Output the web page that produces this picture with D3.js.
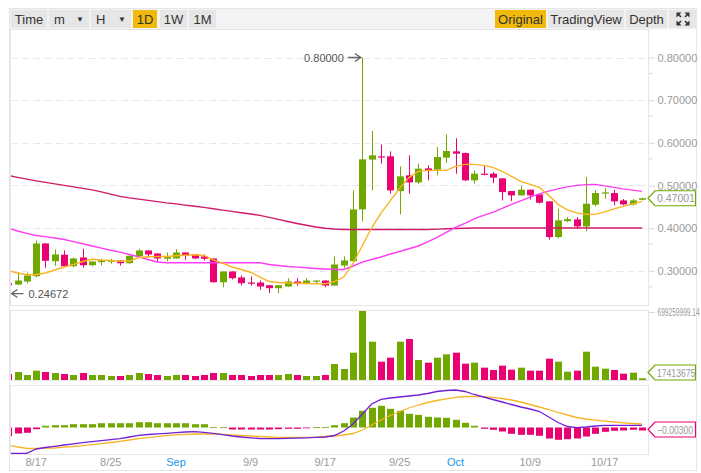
<!DOCTYPE html>
<html><head><meta charset="utf-8">
<script src="https://cdn.jsdelivr.net/npm/d3@7/dist/d3.min.js"></script>
<style>
html,body{margin:0;padding:0;background:#fff;}
svg{display:block;font-family:"Liberation Sans",Arial,Helvetica,sans-serif;}
</style></head><body>
<svg id="c" width="701" height="473"></svg>
<script>
// ---------------- DATA ----------------
const dates = ["8/14","8/15","8/16","8/17","8/18","8/19","8/20","8/21","8/22","8/23","8/24","8/25","8/26","8/27","8/28","8/29","8/30","8/31",
"9/1","9/2","9/3","9/4","9/5","9/6","9/7","9/8","9/9","9/10","9/11","9/12","9/13","9/14","9/15","9/16","9/17","9/18","9/19","9/20","9/21","9/22","9/23","9/24","9/25","9/26","9/27","9/28","9/29","9/30",
"10/1","10/2","10/3","10/4","10/5","10/6","10/7","10/8","10/9","10/10","10/11","10/12","10/13","10/14","10/15","10/16","10/17","10/18","10/19","10/20","10/21"];
const open  = [0.2709,0.2678,0.2749,0.2873,0.3641,0.3225,0.3376,0.3108,0.3312,0.3131,0.3202,0.3225,0.3242,0.3178,0.3343,0.3477,0.3406,0.3282,0.3289,0.3430,0.3383,0.3336,0.3289,0.2732,0.2984,0.2843,0.2725,0.2725,0.2662,0.2592,0.2632,0.2749,0.2709,0.2749,0.2772,0.2655,0.3124,0.3225,0.4439,0.5606,0.5683,0.5683,0.4869,0.5237,0.5073,0.5401,0.5371,0.5653,0.5800,0.5761,0.5120,0.5277,0.5277,0.5167,0.4869,0.4768,0.4901,0.4791,0.4627,0.3789,0.4164,0.4204,0.4040,0.4549,0.4815,0.4822,0.4650,0.4556,0.4665];
const high  = [0.2720,0.2967,0.2960,0.3711,0.3650,0.3500,0.3477,0.3310,0.3516,0.3220,0.3282,0.3282,0.3245,0.3355,0.3516,0.3480,0.3410,0.3430,0.3507,0.3432,0.3385,0.3383,0.3292,0.2987,0.2987,0.2890,0.2866,0.2772,0.2664,0.2665,0.2826,0.2826,0.2826,0.2775,0.2775,0.3336,0.3336,0.4885,0.8000,0.6277,0.5958,0.5800,0.5448,0.5707,0.5512,0.5472,0.5900,0.6200,0.6106,0.5770,0.5354,0.5472,0.5315,0.5170,0.4870,0.4995,0.4905,0.4795,0.4630,0.4455,0.4258,0.4258,0.5197,0.4885,0.4939,0.4901,0.4681,0.4681,0.4710];
const low   = [0.24672,0.2665,0.2702,0.2843,0.3070,0.3117,0.3085,0.3085,0.3070,0.3108,0.3124,0.3164,0.3124,0.3164,0.3336,0.3305,0.3218,0.3225,0.3282,0.3258,0.3272,0.3242,0.2725,0.2615,0.2796,0.2655,0.2655,0.2554,0.2480,0.2480,0.2630,0.2655,0.2700,0.2695,0.2615,0.2650,0.3070,0.3200,0.4157,0.4885,0.5512,0.4808,0.4322,0.4808,0.5033,0.5120,0.5237,0.5535,0.5277,0.5103,0.5042,0.5237,0.5056,0.4650,0.4634,0.4765,0.4671,0.4573,0.3728,0.3760,0.4141,0.3986,0.3930,0.4509,0.4690,0.4533,0.4533,0.4526,0.4650];
const close = [0.2662,0.2772,0.2890,0.3641,0.3235,0.3383,0.3108,0.3289,0.3131,0.3218,0.3242,0.3242,0.3178,0.3352,0.3477,0.3383,0.3289,0.3319,0.3430,0.3352,0.3289,0.3282,0.2732,0.2984,0.2826,0.2709,0.2709,0.2632,0.2592,0.2662,0.2749,0.2702,0.2772,0.2772,0.2655,0.3148,0.3242,0.4439,0.5613,0.5707,0.5667,0.4885,0.5214,0.5073,0.5394,0.5354,0.5667,0.5808,0.5746,0.5120,0.5277,0.5254,0.5183,0.4845,0.4768,0.4901,0.4768,0.4596,0.3789,0.4181,0.4211,0.4040,0.4573,0.4822,0.4838,0.4627,0.4556,0.4650,0.47001];
const maShort = [0.3007,0.2948,0.2906,0.2913,0.2948,0.3019,0.3089,0.3148,0.3218,0.3272,0.3254,0.3242,0.3225,0.3225,0.3312,0.3329,0.3336,0.3336,0.3352,0.3366,0.3376,0.3359,0.3254,0.3183,0.3089,0.3031,0.2967,0.2854,0.2749,0.2725,0.2714,0.2709,0.2702,0.2697,0.2695,0.2749,0.2854,0.3171,0.3594,0.4009,0.4350,0.4646,0.4932,0.5185,0.5331,0.5354,0.5354,0.5354,0.5448,0.5495,0.5495,0.5472,0.5425,0.5331,0.5214,0.5096,0.5026,0.4955,0.4768,0.4556,0.4427,0.4357,0.4326,0.4322,0.4380,0.4451,0.4509,0.4568,0.4627];
const maMid = [0.3998,0.3934,0.3876,0.3829,0.3800,0.3770,0.3735,0.3683,0.3634,0.3582,0.3531,0.3481,0.3437,0.3383,0.3329,0.3265,0.3207,0.3188,0.3188,0.3188,0.3188,0.3188,0.3188,0.3188,0.3188,0.3188,0.3188,0.3188,0.3148,0.3124,0.3101,0.3085,0.3070,0.3054,0.3042,0.3031,0.3031,0.3113,0.3202,0.3265,0.3324,0.3394,0.3453,0.3516,0.3582,0.3676,0.3782,0.3899,0.4016,0.4110,0.4216,0.4298,0.4369,0.4462,0.4556,0.4638,0.4725,0.4803,0.4869,0.4920,0.4967,0.5002,0.5019,0.5026,0.4991,0.4955,0.4920,0.4890,0.4862];
const maLong = [0.5237,0.5190,0.5148,0.5108,0.5073,0.5038,0.5002,0.4967,0.4932,0.4897,0.4850,0.4798,0.4744,0.4709,0.4681,0.4650,0.4622,0.4592,0.4568,0.4540,0.4514,0.4486,0.4455,0.4423,0.4392,0.4362,0.4333,0.4298,0.4251,0.4204,0.4157,0.4110,0.4068,0.4028,0.3998,0.3979,0.3969,0.3969,0.3969,0.3969,0.3969,0.3969,0.3969,0.3969,0.3969,0.3969,0.3977,0.3984,0.3991,0.3998,0.4005,0.4005,0.4005,0.4005,0.4005,0.4005,0.4005,0.4005,0.4005,0.4005,0.4005,0.4005,0.4005,0.4005,0.4005,0.4005,0.4005,0.4005,0.4005];
const volume = [60.8e6,81.1e6,50.7e6,94.6e6,81.1e6,70.9e6,60.8e6,50.7e6,70.9e6,50.7e6,50.7e6,40.5e6,40.5e6,50.7e6,70.9e6,60.8e6,50.7e6,40.5e6,50.7e6,50.7e6,40.5e6,50.7e6,70.9e6,70.9e6,50.7e6,50.7e6,40.5e6,50.7e6,50.7e6,50.7e6,60.8e6,50.7e6,40.5e6,40.5e6,50.7e6,162.1e6,111.4e6,276.9e6,699259999.14,388.3e6,185.7e6,226.2e6,388.3e6,415.3e6,202.6e6,175.6e6,226.2e6,260.0e6,276.9e6,165.5e6,175.6e6,124.9e6,101.3e6,145.2e6,104.7e6,124.9e6,94.6e6,94.6e6,216.1e6,185.7e6,84.4e6,94.6e6,287.0e6,135.1e6,114.8e6,101.3e6,64.2e6,74.3e6,17413675];
const dif = [-0.0260,-0.0260,-0.0258,-0.0215,-0.0200,-0.0188,-0.0175,-0.0163,-0.0152,-0.0142,-0.0132,-0.0122,-0.0112,-0.0095,-0.0078,-0.0070,-0.0063,-0.0058,-0.0052,-0.0045,-0.0042,-0.0048,-0.0058,-0.0072,-0.0085,-0.0095,-0.0103,-0.0110,-0.0112,-0.0111,-0.0109,-0.0107,-0.0103,-0.0099,-0.0095,-0.0080,-0.0035,0.0035,0.0135,0.0235,0.0282,0.0295,0.0305,0.0315,0.0325,0.0340,0.0360,0.0370,0.0375,0.0360,0.0330,0.0305,0.0280,0.0255,0.0230,0.0205,0.0185,0.0160,0.0105,0.0050,0.0010,-0.0002,0.0005,0.0015,0.0022,0.0022,0.0022,0.0022,0.0022];
const dea = [-0.0175,-0.0195,-0.0208,-0.0208,-0.0207,-0.0205,-0.0197,-0.0190,-0.0182,-0.0172,-0.0162,-0.0150,-0.0138,-0.0125,-0.0112,-0.0101,-0.0091,-0.0082,-0.0074,-0.0068,-0.0065,-0.0065,-0.0065,-0.0069,-0.0074,-0.0080,-0.0085,-0.0090,-0.0095,-0.0098,-0.0099,-0.0099,-0.0098,-0.0096,-0.0090,-0.0085,-0.0075,-0.0060,-0.0025,0.0025,0.0075,0.0120,0.0160,0.0195,0.0225,0.0250,0.0270,0.0287,0.0302,0.0310,0.0310,0.0308,0.0302,0.0290,0.0275,0.0255,0.0230,0.0205,0.0180,0.0150,0.0125,0.0100,0.0085,0.0073,0.0063,0.0055,0.0047,0.0040,0.0035];
const hist = [-0.0087,-0.0060,-0.0053,-0.0017,0.0017,0.0023,0.0023,0.0033,0.0033,0.0033,0.0043,0.0043,0.0043,0.0043,0.0053,0.0053,0.0043,0.0043,0.0043,0.0043,0.0033,0.0033,0.0003,0.0002,-0.0020,-0.0020,-0.0020,-0.0020,-0.0020,-0.0017,-0.0013,-0.0013,-0.0007,0.0003,0.0003,0.0023,0.0043,0.0100,0.0167,0.0197,0.0217,0.0187,0.0167,0.0137,0.0127,0.0107,0.0100,0.0097,0.0077,0.0047,0.0017,-0.0013,-0.0023,-0.0040,-0.0063,-0.0073,-0.0073,-0.0083,-0.0110,-0.0123,-0.0117,-0.0110,-0.0090,-0.0063,-0.0043,-0.0033,-0.0030,-0.0023,-0.0030];
const priceTicks = [0.3,0.4,0.5,0.6,0.7,0.8];
const priceMinorTicks = [0.2635,0.3635,0.4635,0.5635,0.6635,0.7635];
const volTicks = [699259999.14];
const dateTicks = ["8/17","8/25","9/1","9/9","9/17","9/25","10/1","10/9","10/17"];
const dateTickLabels = ["8/17","8/25","Sep","9/9","9/17","9/25","Oct","10/9","10/17"];
const leftButtons = [["Time",11,47,false],["m",49,89,false,true],["H",91,131,false,true],["1D",133,157,true],["1W",160,187,false],["1M",189,216,false]];
const rightButtons = [["Original",495,546,true],["TradingView",548,624,false],["Depth",626,667,false]];

// ---------------- CHART ----------------
const GREEN="#70a800", PINK="#ea0070", YEL="#f9b422", MAG="#ff3cf5", CRIM="#cf1a68", PUR="#7420d4";
const GRID="#e9e9e9", BORDER="#e6e6e6", AX="#9a9a9a";
const svg = d3.select("#c");
const N = dates.length;
const PL = 10.5, PR = 648.5;

const x = d3.scaleBand().domain(dates).range([3.54, 646.62]).paddingInner(0).paddingOuter(0);
const cx = i => x(dates[i]) + x.bandwidth()/2;
const yP = d3.scaleLinear().domain([0.3, 0.8]).range([270.8, 57.5]);
const yV = d3.scaleLinear().domain([0, 699259999.14]).range([380, 311]);
const yM = d3.scaleLinear().domain([0, 0.04]).range([427.5, 387.5]);

const defs = svg.append("defs");
defs.append("clipPath").attr("id","cm").append("rect").attr("x",PL+0.5).attr("y",30).attr("width",PR-PL-1).attr("height",275);
defs.append("clipPath").attr("id","cv").append("rect").attr("x",PL+0.5).attr("y",310).attr("width",PR-PL-1).attr("height",71);
defs.append("clipPath").attr("id","cd").append("rect").attr("x",PL+0.5).attr("y",385).attr("width",PR-PL-1).attr("height",69);

// outer frame + toolbar
svg.append("rect").attr("x",9.5).attr("y",8.5).attr("width",687).attr("height",462).attr("fill","#fff").attr("stroke",BORDER);
svg.append("rect").attr("x",10).attr("y",9).attr("width",686.5).attr("height",20.5).attr("fill","#f3f3f3");
function button(b){
  const [t,x0,x1,act,drop] = b;
  svg.append("rect").attr("x",x0).attr("y",10).attr("width",x1-x0).attr("height",18).attr("fill",act?"#f0b90b":"#e6e6e6");
  if(drop){
    svg.append("text").attr("x",x0+5).attr("y",23.5).attr("font-size",13).attr("fill","#333").text(t);
    svg.append("text").attr("x",x1-9).attr("y",22).attr("font-size",8).attr("fill","#333").attr("text-anchor","middle").text("▼");
  } else {
    svg.append("text").attr("x",(x0+x1)/2).attr("y",23.5).attr("font-size",13).attr("fill","#333").attr("text-anchor","middle").text(t);
  }
}
leftButtons.forEach(button); rightButtons.forEach(button);
// fullscreen icon
svg.append("rect").attr("x",669).attr("y",10).attr("width",28).attr("height",18).attr("fill","#e6e6e6");
const ic = svg.append("g").attr("fill","#333").attr("stroke","#333").attr("stroke-width",1.6);
[[1,1],[-1,1],[1,-1],[-1,-1]].forEach(([sx,sy])=>{
  const cxI=683, cyI=19;
  const tx = cxI + sx*6.5, ty = cyI - sy*6.5;
  ic.append("path").attr("stroke","none").attr("d",`M${tx},${ty} l${-sx*5},0 l${sx*5},${sy*5} Z`);
  ic.append("line").attr("x1",tx-sx*1.5).attr("y1",ty+sy*1.5).attr("x2",tx-sx*4.5).attr("y2",ty+sy*4.5);
});

// panel borders
[[29.5,305.5],[310.5,380.5],[385.5,454.5]].forEach(([t,b])=>{
  svg.append("rect").attr("x",PL).attr("y",t).attr("width",PR-PL).attr("height",b-t).attr("fill","none").attr("stroke",BORDER);
});

// grid lines main
svg.append("g").selectAll("line").data(priceTicks).join("line")
  .attr("x1",PL+1).attr("x2",PR-1).attr("y1",d=>Math.round(yP(d))+0.5).attr("y2",d=>Math.round(yP(d))+0.5)
  .attr("stroke",GRID).attr("stroke-dasharray","7,4");

// candles
const gm = svg.append("g").attr("clip-path","url(#cm)");
const col = i => close[i] >= open[i] ? GREEN : PINK;
const idx = d3.range(N);
gm.selectAll("line.w").data(idx).join("line").attr("class","w")
  .attr("x1",i=>Math.round(cx(i))+0.5).attr("x2",i=>Math.round(cx(i))+0.5)
  .attr("y1",i=>yP(high[i])).attr("y2",i=>yP(low[i])).attr("stroke",col).attr("stroke-width",1);
gm.selectAll("rect.b").data(idx).join("rect").attr("class","b")
  .attr("x",i=>Math.round(cx(i))-3).attr("width",7)
  .attr("y",i=>yP(Math.max(open[i],close[i])))
  .attr("height",i=>Math.max(1.2, Math.abs(yP(open[i])-yP(close[i])))).attr("fill",col);

// MA lines
const lineP = d3.line().x((d,i)=>cx(i)).y(d=>yP(d));
[[maLong,CRIM],[maMid,MAG],[maShort,YEL]].forEach(([arr,c])=>{
  gm.append("path").datum(arr).attr("d",lineP).attr("fill","none").attr("stroke",c).attr("stroke-width",1.4);
});

// high / low annotations
const hiI = high.indexOf(d3.max(high)), loI = low.indexOf(d3.min(low));
const ann = svg.append("g").attr("font-size",11).attr("fill","#555");
{
  const tx = cx(hiI) - 1.5, ty = yP(high[hiI]);
  ann.append("path").attr("d",`M${tx-13},${ty} H${tx} M${tx-6},${ty-4} L${tx},${ty} L${tx-6},${ty+4}`).attr("stroke","#666").attr("stroke-width",1.3).attr("fill","none");
  ann.append("text").attr("x",tx-17).attr("y",ty+4).attr("text-anchor","end").text(d3.format(".5f")(high[hiI]));
}
{
  const tx = Math.max(cx(loI)+2, PL+1), ty = yP(low[loI]);
  ann.append("path").attr("d",`M${tx+12},${ty} H${tx} M${tx+6},${ty-4} L${tx},${ty} L${tx+6},${ty+4}`).attr("stroke","#666").attr("stroke-width",1.3).attr("fill","none");
  ann.append("text").attr("x",tx+17).attr("y",ty+4).text(d3.format(".5f")(low[loI]));
}

// volume
const gv = svg.append("g").attr("clip-path","url(#cv)");
gv.selectAll("rect").data(idx).join("rect")
  .attr("x",i=>Math.round(cx(i))-3).attr("width",7)
  .attr("y",i=>yV(volume[i])).attr("height",i=>yV(0)-yV(volume[i])).attr("fill",col);

// MACD
const gd = svg.append("g").attr("clip-path","url(#cd)");
gd.selectAll("rect").data(idx).join("rect")
  .attr("x",i=>Math.round(cx(i))-3).attr("width",7)
  .attr("y",i=>Math.min(yM(0),yM(hist[i]))).attr("height",i=>Math.max(0.8,Math.abs(yM(hist[i])-yM(0))))
  .attr("fill",i=>hist[i]>=0?GREEN:PINK);
const lineM = d3.line().x((d,i)=>cx(i)).y(d=>yM(d));
gd.append("path").datum(dea).attr("d",lineM).attr("fill","none").attr("stroke",YEL).attr("stroke-width",1.3);
gd.append("path").datum(dif).attr("d",lineM).attr("fill","none").attr("stroke",PUR).attr("stroke-width",1.3);

// right axes
function styleAxis(g){
  g.select(".domain").remove();
  g.selectAll(".tick line").attr("stroke","#d9d9d9");
  g.selectAll(".tick text").attr("fill",AX).attr("font-family","'Liberation Sans',Arial,sans-serif");
}
const axP = svg.append("g").attr("transform","translate(648.5,0)")
  .call(d3.axisRight(yP).tickValues(priceTicks).tickFormat(d3.format(".5f")).tickSize(6).tickPadding(3));
axP.attr("font-size",11); styleAxis(axP);
const axPm = svg.append("g").attr("transform","translate(648.5,0)")
  .call(d3.axisRight(yP).tickValues(priceMinorTicks).tickFormat("").tickSize(4));
styleAxis(axPm);
const axV = svg.append("g").attr("transform","translate(648.5,1)")
  .call(d3.axisRight(yV).tickValues(volTicks).tickFormat(d3.format(".2f")).tickSize(6).tickPadding(3));
styleAxis(axV);
// condensed label: squeeze horizontally around its anchor so it stays inside the frame
axV.selectAll(".tick text").attr("font-size",10).attr("x",0)
  .attr("transform","translate(9,0) scale(0.66,1)");

// date axis
const axD = svg.append("g").attr("transform","translate(0,454)")
  .call(d3.axisBottom(x).tickValues(dateTicks).tickFormat(d=>dateTickLabels[dateTicks.indexOf(d)]).tickSize(0).tickPadding(4));
axD.attr("font-size",11); axD.select(".domain").remove();
axD.selectAll(".tick text").attr("fill",d=>(d==="9/1"||d==="10/1")?"#1e96e8":AX).attr("font-family","'Liberation Sans',Arial,sans-serif");

// last value boxes
function valueBox(cy, stroke, label){
  const g = svg.append("g");
  g.append("path").attr("d",`M648,${cy} L655,${cy-7.5} H695.5 V${cy+7.5} H655 Z`).attr("fill","#fff").attr("stroke",stroke).attr("stroke-width",1.2);
  const t = g.append("text").attr("x",0).attr("y",0).attr("font-size",10.5).attr("fill","#999").text(label);
  const sx = label.length > 7 ? 0.82 : 1;
  t.attr("transform",`translate(657,${cy+4}) scale(${sx},1)`);
}
valueBox(yP(close[N-1]), GREEN, d3.format(".5f")(close[N-1]));
valueBox(Math.min(yV(volume[N-1]), 372.5), GREEN, String(volume[N-1]));
valueBox(yM(hist[N-1])-1, PINK, d3.format(".5f")(hist[N-1]));
</script>
</body></html>
